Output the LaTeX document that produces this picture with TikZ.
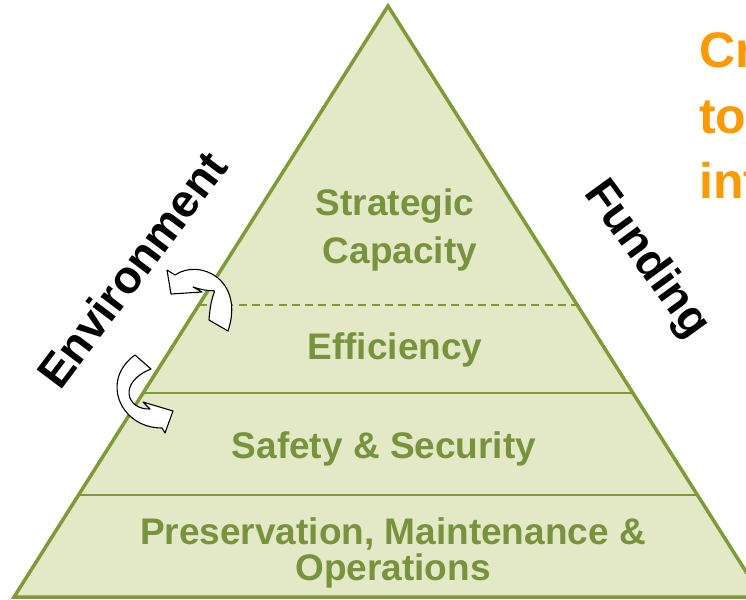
\documentclass[tikz,border=0pt]{standalone}
\usepackage{fontspec}
\setmainfont{Liberation Sans}
\usetikzlibrary{calc}
\definecolor{pyrline}{HTML}{7F9B35}
\definecolor{pyrfill}{HTML}{E3E9C7}
\definecolor{pyrtext}{HTML}{77933C}
\definecolor{callout}{HTML}{FF9900}
\begin{document}
\begin{tikzpicture}[x=1pt, y=-1pt,
        tier/.style={font=\bfseries\fontsize{37}{38}\selectfont, text=pyrtext, inner sep=0pt, anchor=base},
        side/.style={font=\bfseries\fontsize{46}{46}\selectfont, inner sep=0pt, anchor=base west},
        divider/.style={pyrline, line width=1.8pt},
        swirl/.style={draw=black, fill=white, line width=1.1pt, line join=round}]
        \useasboundingbox (0,0) rectangle (746,599);
        \clip (0,0) rectangle (746,599);

        % pyramid
        \coordinate (apex) at (388,6);
        \coordinate (bl) at (14,597);
        \coordinate (br) at (762,597);
        \draw [pyrline, fill=pyrfill, line width=3.5pt]
            (apex) -- (bl) -- (br) -- cycle;

        \draw [divider, line width=2.6pt, dash pattern=on 8pt off 5.3pt]
            ($(apex)!0.5059!(bl)$) -- ($(apex)!0.5059!(br)$);
        \draw [divider] ($(apex)!0.6548!(bl)$) -- ($(apex)!0.6548!(br)$);
        \draw [divider] ($(apex)!0.8274!(bl)$) -- ($(apex)!0.8274!(br)$);

        \node[tier] (strategic) at (395,215) {Strategic};
        \node[tier] (capacity) at (400,263) {Capacity};
        \node[tier] (efficiency) at (395,359) {Efficiency};
        \node[tier] (safety) at (384,458) {Safety \& Security};
        \node[tier] (preservation) at (393,544) {Preservation, Maintenance \&};
        \node[tier] (operations) at (393,580) {Operations};

        % side labels
        \node[side, rotate=53] (environment) at (60,392) {Environment};
        \node[side, rotate=-54] (funding) at (583,193) {Funding};

        % curved arrows
        \draw [swirl] (209,320) .. controls (212,276) and (226,298) .. (193,287)
            -- (202,292) -- (171,294) -- (167,270) -- (175,275)
            .. controls (200,258) and (245,280) .. (228,331) -- cycle;
        \draw [swirl] (151,369) .. controls (118,382) and (126,410) .. (150,409)
            -- (143,402) -- (173,411) -- (165,433) -- (162,428)
            .. controls (120,428) and (100,380) .. (135,355) -- cycle;

        % callout
        \node[font=\bfseries\fontsize{50}{50}\selectfont, text=callout, inner sep=0pt, anchor=base west] (callA) at (699,68) {Cr};
        \node[font=\bfseries\fontsize{50}{50}\selectfont, text=callout, inner sep=0pt, anchor=base west] (callB) at (699,133) {to};
        \node[font=\bfseries\fontsize{50}{50}\selectfont, text=callout, inner sep=0pt, anchor=base west] (callC) at (699,198) {int};
\end{tikzpicture}
\end{document}
